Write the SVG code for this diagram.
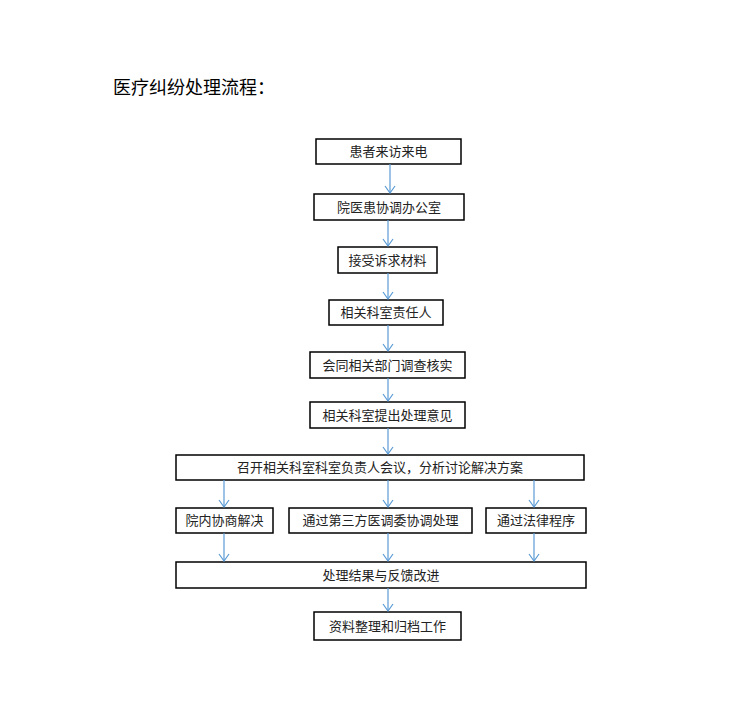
<svg xmlns="http://www.w3.org/2000/svg" width="750" height="717" viewBox="0 0 750 717">
<style>
.b{fill:#fff;stroke:#000;stroke-width:1.5}
text{font-family:"Noto Sans CJK SC",sans-serif;font-size:13px;fill:#222;text-anchor:middle}
.c line{stroke:#5b9bd5;stroke-width:1.2}
.c path{fill:none;stroke:#5b9bd5;stroke-width:1.2}
</style>
<rect width="750" height="717" fill="#fff"/>
<text x="113" y="94" style="font-size:18px;text-anchor:start;fill:#000">医疗纠纷处理流程：</text>
<g id="n1"><rect class="b" x="316" y="139" width="145" height="25"/><text x="388.5" y="156">患者来访来电</text></g>
<g id="n2"><rect class="b" x="314" y="194" width="150" height="26"/><text x="389" y="212">院医患协调办公室</text></g>
<g id="n3"><rect class="b" x="338" y="247" width="99" height="26"/><text x="387.5" y="265">接受诉求材料</text></g>
<g id="n4"><rect class="b" x="329" y="300" width="114" height="25"/><text x="386" y="317">相关科室责任人</text></g>
<g id="n5"><rect class="b" x="310" y="352" width="155" height="26"/><text x="387.5" y="370">会同相关部门调查核实</text></g>
<g id="n6"><rect class="b" x="310" y="402" width="155" height="26"/><text x="387.5" y="420">相关科室提出处理意见</text></g>
<g id="n7"><rect class="b" x="176" y="455" width="408" height="25"/><text x="380" y="472">召开相关科室科室负责人会议，分析讨论解决方案</text></g>
<g id="n8"><rect class="b" x="176" y="508" width="97" height="25"/><text x="224.5" y="525">院内协商解决</text></g>
<g id="n9"><rect class="b" x="289" y="508" width="183" height="25"/><text x="380.5" y="525">通过第三方医调委协调处理</text></g>
<g id="n10"><rect class="b" x="486" y="508" width="100" height="25"/><text x="536" y="525">通过法律程序</text></g>
<g id="n11"><rect class="b" x="176" y="562" width="410" height="26"/><text x="381" y="580">处理结果与反馈改进</text></g>
<g id="n12"><rect class="b" x="314" y="612" width="147" height="28"/><text x="387.5" y="631">资料整理和归档工作</text></g>
<g id="connectors" class="c">
<line x1="390" y1="164" x2="390" y2="193"/><path d="M385,186 L390,193 L395,186"/>
<line x1="388" y1="220" x2="388" y2="246"/><path d="M383,239 L388,246 L393,239"/>
<line x1="388" y1="273" x2="388" y2="299"/><path d="M383,292 L388,299 L393,292"/>
<line x1="388" y1="325" x2="388" y2="351"/><path d="M383,344 L388,351 L393,344"/>
<line x1="388" y1="378" x2="388" y2="401"/><path d="M383,394 L388,401 L393,394"/>
<line x1="388" y1="428" x2="388" y2="454"/><path d="M383,447 L388,454 L393,447"/>
<line x1="224" y1="480" x2="224" y2="507"/><path d="M219,500 L224,507 L229,500"/>
<line x1="388" y1="480" x2="388" y2="507"/><path d="M383,500 L388,507 L393,500"/>
<line x1="534" y1="480" x2="534" y2="507"/><path d="M529,500 L534,507 L539,500"/>
<line x1="224" y1="533" x2="224" y2="561"/><path d="M219,554 L224,561 L229,554"/>
<line x1="388" y1="533" x2="388" y2="561"/><path d="M383,554 L388,561 L393,554"/>
<line x1="534" y1="533" x2="534" y2="561"/><path d="M529,554 L534,561 L539,554"/>
<line x1="388" y1="588" x2="388" y2="611"/><path d="M383,604 L388,611 L393,604"/>
</g>
</svg>
